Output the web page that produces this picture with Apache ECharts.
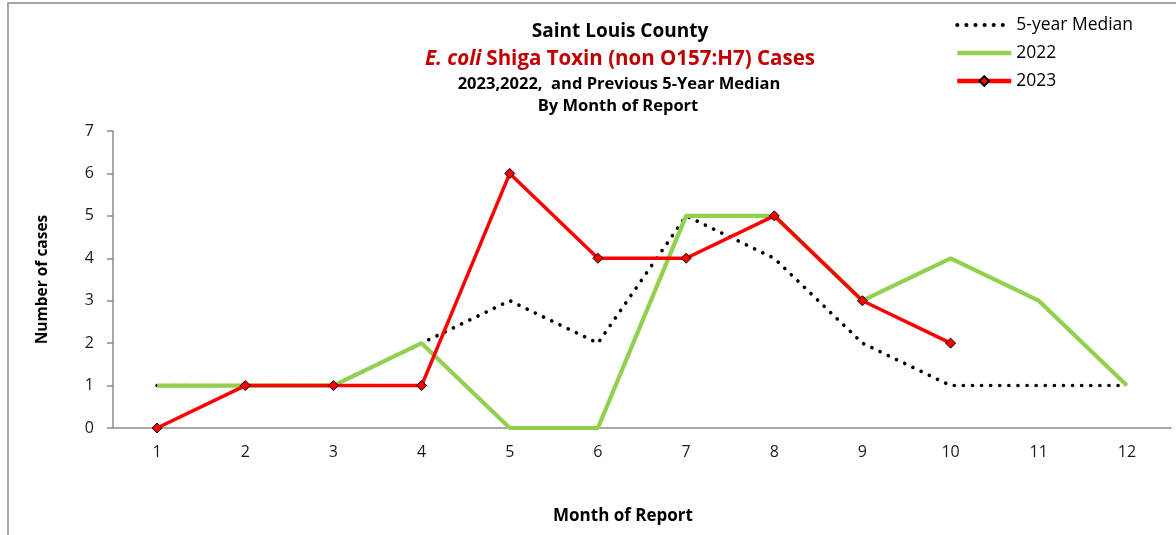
<!DOCTYPE html>
<html>
<head>
<meta charset="utf-8">
<script src="https://cdn.jsdelivr.net/npm/echarts@6/dist/echarts.min.js"></script>
<style>
html,body{margin:0;padding:0;background:#fff;}
#chart{width:1176px;height:535px;}
</style>
</head>
<body>
<div id="chart"></div>
<script>
const months = ['1','2','3','4','5','6','7','8','9','10','11','12'];
const median5 = [1,1,1,2,3,2,5,4,2,1,1,1];
const y2022 = [1,1,1,2,0,0,5,5,3,4,3,1];
const y2023 = [0,1,1,1,6,4,4,5,3,2];
const yTicks = [0,1,2,3,4,5,6,7];

const FONT = '"Open Sans", "Liberation Sans", sans-serif';
const chart = echarts.init(document.getElementById('chart'), null, {renderer:'canvas'});
const hidden = {color:'rgba(0,0,0,0)', borderWidth:0, opacity:0};
chart.setOption({
  animation:false,
  backgroundColor:'#fff',
  graphic:[{type:'rect', shape:{x:8,y:3,width:1300,height:700}, style:{fill:'none', stroke:'#a6a6a6', lineWidth:2}, silent:true}],
  title:[
    {text:'Saint Louis County', left:615, top:17.5, textAlign:'center',
     textStyle:{fontFamily:FONT, fontSize:19, fontWeight:'bold', color:'#000'}},
    {text:'{i|E. coli} {n|Shiga Toxin (non O157:H7) Cases}', left:615, top:44, textAlign:'center',
     textStyle:{rich:{
       i:{fontFamily:FONT, fontSize:20.5, fontWeight:'bold', fontStyle:'italic', color:'#c00000'},
       n:{fontFamily:FONT, fontSize:20.5, fontWeight:'bold', color:'#c00000'}}}},
    {text:'2023,2022,  and Previous 5-Year Median', left:614, top:71, textAlign:'center',
     textStyle:{fontFamily:FONT, fontSize:16.5, fontWeight:'bold', color:'#000'}},
    {text:'By Month of Report', left:613, top:93, textAlign:'center',
     textStyle:{fontFamily:FONT, fontSize:16.5, fontWeight:'bold', color:'#000'}},
    {text:'Month of Report', left:618, top:503, textAlign:'center',
     textStyle:{fontFamily:FONT, fontSize:17, fontWeight:'bold', color:'#000'}}
  ],
  legend:{
    orient:'vertical', left:950, top:11, itemWidth:54, itemHeight:12, itemGap:10,
    textStyle:{fontFamily:FONT, fontSize:17.5, color:'#000'},
    data:[
      {name:'5-year Median', itemStyle:hidden,
       lineStyle:{color:'#000', width:4, type:[0.1,9], cap:'round'}},
      {name:'2022', itemStyle:hidden, lineStyle:{color:'#92d050', width:4.5}},
      {name:'2023', lineStyle:{color:'#ff0000', width:4.5}}
    ]
  },
  grid:{left:113, right:5, top:131, bottom:107, containLabel:false},
  xAxis:{
    type:'category', data:months, boundaryGap:true,
    axisLine:{lineStyle:{color:'#8c8c8c', width:1.5}},
    axisTick:{show:false},
    axisLabel:{fontFamily:FONT, fontSize:16, color:'#1a1a1a', margin:16}
  },
  yAxis:{
    type:'value', min:0, max:7, interval:1,
    name:'Number of cases', nameLocation:'middle', nameGap:62, nameRotate:90,
    nameTextStyle:{fontFamily:FONT, fontSize:15.5, fontWeight:'bold', color:'#000'},
    axisLine:{show:true, lineStyle:{color:'#8c8c8c', width:1.5}},
    axisTick:{show:true, length:6, lineStyle:{color:'#8c8c8c', width:1.5}},
    splitLine:{show:false},
    axisLabel:{fontFamily:FONT, fontSize:16, color:'#1a1a1a', margin:19,
      formatter:function(v){return yTicks.indexOf(v)>=0?String(v):'';}}
  },
  series:[
    {name:'5-year Median', type:'line', data:median5, showSymbol:false, symbol:'none',
     itemStyle:{color:'#000'},
     lineStyle:{color:'#000', width:3.6, type:[0.1,9], cap:'round'}, z:1},
    {name:'2022', type:'line', data:y2022, showSymbol:false, symbol:'none',
     itemStyle:{color:'#92d050'},
     lineStyle:{color:'#92d050', width:4.2}, z:2},
    {name:'2023', type:'line', data:y2023, symbol:'diamond', symbolSize:10, showSymbol:true,
     itemStyle:{color:'#ff0000', borderColor:'#000', borderWidth:1},
     lineStyle:{color:'#ff0000', width:3.5}, z:3}
  ]
});
</script>
</body>
</html>
